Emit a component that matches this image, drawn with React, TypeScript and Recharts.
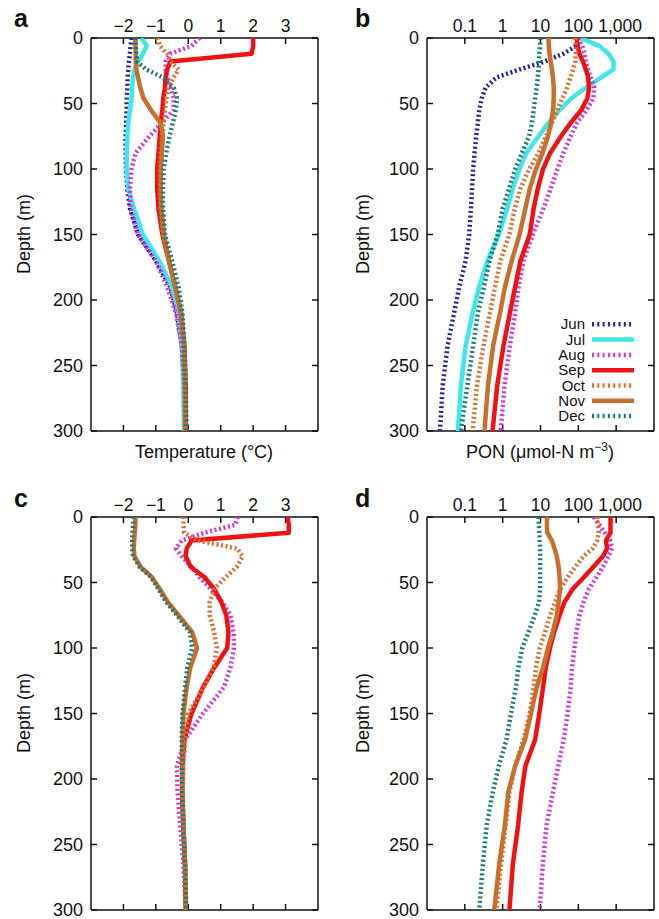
import { ScatterChart, Scatter, XAxis, YAxis } from "recharts";

// depth grid (m) shared by every profile
const DEPTHS = [0, 6, 12, 18, 24, 30, 38, 46, 55, 65, 75, 88, 100, 115, 130, 150, 170, 190, 210, 235, 265, 300];

// panel a: temperature (°C)
const A_JUN = [-1.75, -1.78, -1.8, -1.83, -1.85, -1.87, -1.88, -1.9, -1.9, -1.92, -1.93, -1.93, -1.92, -1.88, -1.8, -1.55, -1.0, -0.55, -0.35, -0.2, -0.12, -0.1];
const A_JUL = [-1.45, -1.28, -1.4, -1.55, -1.65, -1.7, -1.73, -1.75, -1.8, -1.85, -1.88, -1.9, -1.9, -1.85, -1.68, -1.4, -0.9, -0.5, -0.3, -0.2, -0.15, -0.13];
const A_AUG = [0.35, 0.1, -0.55, -0.7, -0.7, -0.65, -0.55, -0.45, -0.45, -0.82, -1.2, -1.63, -1.75, -1.8, -1.78, -1.55, -1.0, -0.65, -0.38, -0.2, -0.12, -0.1];
const A_SEP = [2.0, 2.0, 1.95, -0.55, -0.65, -0.7, -0.72, -0.77, -0.8, -0.85, -0.88, -0.92, -0.96, -0.96, -0.92, -0.8, -0.6, -0.4, -0.22, -0.12, -0.08, -0.08];
const A_OCT = [-0.95, -0.88, -0.65, -0.55, -0.3, -0.45, -0.62, -0.68, -0.72, -0.76, -0.8, -0.85, -0.87, -0.87, -0.85, -0.78, -0.6, -0.4, -0.25, -0.13, -0.1, -0.08];
const A_NOV = [-1.63, -1.63, -1.62, -1.62, -1.6, -1.55, -1.48, -1.38, -1.15, -0.85, -0.78, -0.82, -0.85, -0.85, -0.83, -0.75, -0.6, -0.4, -0.22, -0.13, -0.1, -0.1];
const A_DEC = [-1.63, -1.62, -1.6, -1.58, -1.3, -0.8, -0.45, -0.35, -0.38, -0.48, -0.58, -0.68, -0.76, -0.78, -0.78, -0.72, -0.5, -0.3, -0.18, -0.12, -0.08, -0.05];

// panel b: PON (µmol-N m-3)
const B_JUN = [112, 89, 40, 12.6, 2.8, 0.69, 0.35, 0.28, 0.24, 0.22, 0.2, 0.18, 0.166, 0.155, 0.145, 0.13, 0.105, 0.071, 0.052, 0.035, 0.026, 0.022];
const B_JUL = [112, 355, 630, 850, 850, 400, 158, 66, 32, 16, 8.9, 4.2, 2.75, 1.86, 1.32, 0.79, 0.4, 0.24, 0.16, 0.105, 0.079, 0.066];
const B_AUG = [100, 126, 148, 158, 178, 214, 263, 251, 166, 91, 63, 40, 28, 18.6, 12, 6.3, 3.55, 2.63, 2.14, 1.55, 1.12, 0.89];
const B_SEP = [91, 95, 107, 132, 158, 182, 191, 174, 120, 62, 35, 17.8, 11.7, 8.5, 6.6, 5.2, 2.95, 2.14, 1.55, 1.05, 0.72, 0.54];
const B_OCT = [83, 85, 85, 83, 72, 62, 50, 38, 28, 20, 14, 8.9, 5, 2.95, 2.1, 1.5, 0.87, 0.63, 0.46, 0.31, 0.21, 0.16];
const B_NOV = [16.2, 16.6, 17.4, 18.6, 20, 21.4, 22.4, 22.4, 21.4, 19, 15.8, 11.2, 7.6, 5.2, 4, 2.8, 1.74, 1.15, 0.85, 0.56, 0.41, 0.33];
const B_DEC = [10, 9.8, 9.3, 9.1, 8.9, 8.5, 7.9, 7.2, 6.6, 5.9, 5, 3.2, 2.14, 1.48, 1.0, 0.74, 0.45, 0.32, 0.22, 0.166, 0.117, 0.079];

// panel c: temperature (°C)
const C_AUG = [1.52, 1.45, 0.5, -0.2, -0.38, -0.2, 0.1, 0.35, 0.7, 1.05, 1.3, 1.4, 1.41, 1.3, 1.1, 0.45, -0.1, -0.35, -0.33, -0.25, -0.15, -0.08];
const C_SEP = [3.06, 3.1, 3.1, 0.1, -0.05, -0.08, 0.07, 0.5, 0.8, 1.02, 1.17, 1.24, 1.2, 0.8, 0.45, 0.1, -0.12, -0.18, -0.19, -0.15, -0.1, -0.08];
const C_OCT = [-0.15, -0.15, -0.13, 0.3, 1.5, 1.68, 1.5, 1.15, 0.8, 0.66, 0.66, 0.8, 0.88, 0.78, 0.48, 0.0, -0.1, -0.15, -0.17, -0.15, -0.1, -0.08];
const C_NOV = [-1.63, -1.63, -1.65, -1.67, -1.68, -1.66, -1.47, -1.12, -0.88, -0.63, -0.3, 0.12, 0.27, 0.06, -0.05, -0.15, -0.18, -0.19, -0.18, -0.15, -0.1, -0.08];
const C_DEC = [-1.68, -1.7, -1.72, -1.73, -1.73, -1.7, -1.5, -1.15, -0.92, -0.68, -0.35, 0.05, 0.12, -0.03, -0.1, -0.18, -0.2, -0.2, -0.19, -0.16, -0.1, -0.06];

// panel d: PON (µmol-N m-3)
const D_AUG = [257, 363, 500, 690, 776, 630, 447, 302, 190, 138, 107, 89, 79, 68, 63, 52, 41, 29.5, 21.4, 14.5, 11.5, 9.5];
const D_SEP = [708, 708, 708, 537, 575, 447, 251, 141, 71, 43, 32, 23, 17.8, 13.8, 11.7, 9.3, 7.2, 4, 3.16, 2.57, 1.86, 1.51];
const D_OCT = [316, 331, 347, 316, 240, 138, 83, 52, 33, 24, 18, 13.2, 9.5, 7.6, 6.6, 5.2, 3.55, 2.14, 1.51, 1.2, 0.91, 0.68];
const D_NOV = [14.8, 14.8, 15.1, 20, 23.4, 27, 30, 32, 33, 30, 27, 21, 15.8, 11.7, 7.9, 5.6, 3.9, 2.14, 1.41, 1.15, 0.81, 0.6];
const D_DEC = [8.9, 9.1, 9.3, 9.5, 9.8, 9.8, 9.8, 9.8, 9.8, 9.1, 7.1, 4.8, 3.3, 2.6, 2.24, 1.66, 1.26, 0.79, 0.55, 0.38, 0.3, 0.24];

const MONTHS = ["Jun", "Jul", "Aug", "Sep", "Oct", "Nov", "Dec"];
const LATE_MONTHS = ["Aug", "Sep", "Oct", "Nov", "Dec"];
const TEMP_TICKS = [-2, -1, 0, 1, 2, 3];
const PON_TICKS = [0.1, 1, 10, 100, 1000];
const DEPTH_TICKS = [0, 50, 100, 150, 200, 250, 300];

const STYLE: Record<string, { color: string; dotted: boolean }> = {
  Jun: { color: "#1f22a8", dotted: true },
  Jul: { color: "#3fe6ec", dotted: false },
  Aug: { color: "#d232d8", dotted: true },
  Sep: { color: "#f01212", dotted: false },
  Oct: { color: "#e2692c", dotted: true },
  Nov: { color: "#c96f2c", dotted: false },
  Dec: { color: "#1b7a78", dotted: true },
};

const FONT = "'Liberation Sans', Arial, Helvetica, sans-serif";
const INK = "#111";

type Series = { month: string; values: number[] };

const fmtTemp = (v: number) => (v < 0 ? `\u2212${Math.abs(v)}` : `${v}`);
const fmtPon = (v: number) => v.toLocaleString("en-US");

// top tick label; the "1,000" label sits a little right of its tick, as in the source
function TopTick(props: any) {
  const { x, y, payload, isPon } = props;
  const v = payload.value as number;
  const dx = isPon && v === 1000 ? 4 : 0;
  return (
    <text x={x + dx} y={y} textAnchor="middle" fill={INK} fontSize={17.5} fontFamily={FONT}>
      {isPon ? fmtPon(v) : fmtTemp(v)}
    </text>
  );
}

function Profile({
  series,
  kind,
  left,
  top,
  width,
  height,
  plot,
}: {
  series: Series[];
  kind: "temp" | "pon";
  left: number;
  top: number;
  width: number;
  height: number;
  plot: { l: number; r: number; t: number; b: number };
}) {
  const isPon = kind === "pon";
  const xProps = {
    type: "number" as const,
    dataKey: "v",
    scale: isPon ? ("log" as const) : ("linear" as const),
    domain: isPon ? [0.01, 10000] : [-3, 4],
    ticks: isPon ? PON_TICKS : TEMP_TICKS,
    allowDataOverflow: true,
    interval: 0 as const,
    tickSize: -6,
    axisLine: { stroke: INK, strokeWidth: 1.5 },
    tickLine: { stroke: INK, strokeWidth: 1.5 },
  };
  const yProps = {
    type: "number" as const,
    dataKey: "depth",
    domain: [0, 300],
    reversed: true,
    ticks: DEPTH_TICKS,
    allowDataOverflow: true,
    interval: 0 as const,
    tickSize: -6,
    axisLine: { stroke: INK, strokeWidth: 1.5 },
    tickLine: { stroke: INK, strokeWidth: 1.5 },
  };
  const margin = {
    top: plot.t - top - 30,
    bottom: top + height - plot.b - 2,
    left: plot.l - left - 60,
    right: left + width - plot.r - 2,
  };
  return (
    <div style={{ position: "absolute", left, top, width, height }}>
      <ScatterChart width={width} height={height} margin={margin} style={{ fontFamily: FONT }}>
        <XAxis
          {...xProps}
          xAxisId="top"
          orientation="top"
          height={30}
          tickMargin={12}
          tick={(p: any) => <TopTick {...p} isPon={isPon} />}
        />
        <XAxis {...xProps} xAxisId="bottom" orientation="bottom" height={2} tickFormatter={() => ""} />
        <YAxis
          {...yProps}
          yAxisId="left"
          orientation="left"
          width={60}
          tickMargin={14}
          tick={{ fill: INK, fontSize: 18 }}
        />
        <YAxis {...yProps} yAxisId="right" orientation="right" width={2} tickFormatter={() => ""} />
        {series.map((s) => {
          const st = STYLE[s.month];
          const data = DEPTHS.map((d, i) => ({ depth: d, v: s.values[i] }));
          return (
            <Scatter
              key={s.month}
              name={s.month}
              data={data}
              xAxisId="top"
              yAxisId="left"
              fill={st.color}
              line={{
                stroke: st.color,
                strokeWidth: 4.5,
                strokeDasharray: st.dotted ? "2 2.6" : undefined,
                strokeLinejoin: "round",
              }}
              lineType="joint"
              shape={() => <g />}
              isAnimationActive={false}
            />
          );
        })}
      </ScatterChart>
    </div>
  );
}

function Labels() {
  const legendY0 = 324.3;
  const step = 15.3;
  return (
    <svg
      width={659}
      height={919}
      style={{ position: "absolute", left: 0, top: 0, pointerEvents: "none", fontFamily: FONT }}
    >
      <g fontWeight="bold" fontSize={25} fill={INK}>
        <text x={14} y={27}>a</text>
        <text x={355} y={27}>b</text>
        <text x={14} y={507}>c</text>
        <text x={355} y={507}>d</text>
      </g>
      <g fontSize={18} fill={INK}>
        <text x={204} y={458} textAnchor="middle">Temperature (°C)</text>
        <text x={540} y={458} textAnchor="middle">
          PON (μmol-N m
          <tspan dy={-7} fontSize={12}>{"\u22123"}</tspan>
          <tspan dy={7}>)</tspan>
        </text>
        <text transform="translate(30,234) rotate(-90)" textAnchor="middle">Depth (m)</text>
        <text transform="translate(369,234) rotate(-90)" textAnchor="middle">Depth (m)</text>
        <text transform="translate(30,713) rotate(-90)" textAnchor="middle">Depth (m)</text>
        <text transform="translate(369,713) rotate(-90)" textAnchor="middle">Depth (m)</text>
      </g>
      <g fontSize={15} fill={INK}>
        {MONTHS.map((m, i) => {
          const y = legendY0 + i * step;
          const st = STYLE[m];
          return (
            <g key={m}>
              <text x={585} y={y + 5} textAnchor="end">{m}</text>
              <line
                x1={592}
                x2={634}
                y1={y}
                y2={y}
                stroke={st.color}
                strokeWidth={4.5}
                strokeDasharray={st.dotted ? "2 3.3" : undefined}
              />
            </g>
          );
        })}
      </g>
    </svg>
  );
}

const pick = (months: string[], arrays: number[][]): Series[] =>
  months.map((m, i) => ({ month: m, values: arrays[i] }));

export default function App() {
  const a = pick(MONTHS, [A_JUN, A_JUL, A_AUG, A_SEP, A_OCT, A_NOV, A_DEC]);
  const b = pick(MONTHS, [B_JUN, B_JUL, B_AUG, B_SEP, B_OCT, B_NOV, B_DEC]);
  const c = pick(LATE_MONTHS, [C_AUG, C_SEP, C_OCT, C_NOV, C_DEC]);
  const d = pick(LATE_MONTHS, [D_AUG, D_SEP, D_OCT, D_NOV, D_DEC]);
  return (
    <div
      style={{
        position: "absolute",
        left: 0,
        top: 0,
        width: 659,
        height: 919,
        background: "#fff",
        overflow: "hidden",
        fontFamily: FONT,
      }}
    >
      <Profile series={a} kind="temp" left={0} top={0} width={330} height={460} plot={{ l: 91, r: 318, t: 38, b: 431 }} />
      <Profile series={b} kind="pon" left={330} top={0} width={329} height={460} plot={{ l: 427, r: 654, t: 38, b: 431 }} />
      <Profile series={c} kind="temp" left={0} top={460} width={330} height={459} plot={{ l: 91, r: 318, t: 517, b: 910 }} />
      <Profile series={d} kind="pon" left={330} top={460} width={329} height={459} plot={{ l: 427, r: 654, t: 517, b: 910 }} />
      <Labels />
    </div>
  );
}
